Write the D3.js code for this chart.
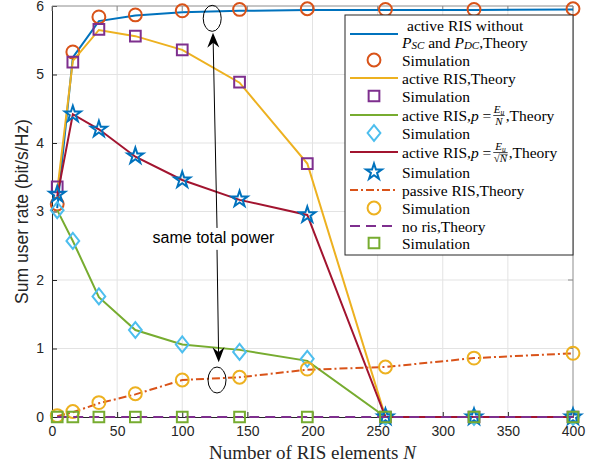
<!DOCTYPE html>
<html>
<head>
<meta charset="utf-8">
<script src="https://cdn.jsdelivr.net/npm/d3@7"></script>
<style>
  body { margin: 0; background: #fff; }
  svg { display: block; }
  .tick text { font-family: "Liberation Sans", Arial, sans-serif; font-size: 14px; fill: #262626; }
</style>
</head>
<body>
<div id="chart"></div>
<script>
// number of RIS elements
var N = [4, 16, 36, 64, 100, 144, 196, 256, 324, 400];

// active RIS without Psc and Pdc
var noPowerTheory = [3.05, 5.25, 5.78, 5.86, 5.91, 5.93, 5.94, 5.94, 5.94, 5.95];
var noPowerSim    = [3.11, 5.33, 5.84, 5.87, 5.93, 5.95, 5.96, 5.95, 5.95, 5.96];
// active RIS
var activeTheory = [3.30, 5.20, 5.65, 5.56, 5.36, 4.88, 3.70, 0, 0, 0];
var activeSim    = [3.36, 5.18, 5.66, 5.56, 5.36, 4.89, 3.70, 0, 0, 0];
// active RIS, p = Eu/N
var pNTheory = [3.02, 2.57, 1.75, 1.27, 1.06, 0.98, 0.82, 0, 0, 0];
var pNSim    = [3.02, 2.57, 1.76, 1.27, 1.06, 0.95, 0.85, 0, 0, 0];
// active RIS, p = Eu/sqrt(N)
var pSqrtTheory = [3.22, 4.42, 4.20, 3.80, 3.46, 3.17, 2.95, 0, 0, 0];
var pSqrtSim    = [3.25, 4.42, 4.20, 3.81, 3.46, 3.18, 2.95, 0, 0, 0];
// passive RIS
var passiveTheory = [0.01, 0.07, 0.20, 0.33, 0.54, 0.58, 0.69, 0.73, 0.86, 0.93];
var passiveSim    = [0.02, 0.08, 0.21, 0.34, 0.54, 0.58, 0.70, 0.73, 0.86, 0.93];
// no RIS
var noRisTheory = [0, 0, 0, 0, 0, 0, 0, 0, 0, 0];
var noRisSim    = [0, 0, 0, 0, 0, 0, 0, 0, 0, 0];

var xTicks = [0, 50, 100, 150, 200, 250, 300, 350, 400];
var yTicks = [0, 1, 2, 3, 4, 5, 6];

// annotation anchors (data units)
var topEllipse = {x: 123, y: 5.82};
var botEllipse = {x: 126.7, y: 0.54};
var noteText = {x: 124, y: 2.54, label: "same total power"};
var topArrow = {from: [126.7, 2.76], to: [123.6, 5.61]};
var botArrow = {from: [126.7, 2.44], to: [128, 0.80]};

var width = 603, height = 469;
var margin = {top: 6, right: 30, bottom: 52, left: 52};

var svg = d3.select("#chart").append("svg")
    .attr("width", width)
    .attr("height", height);

var xScale = d3.scaleLinear().domain([0, 400]).range([margin.left, width - margin.right]);
var yScale = d3.scaleLinear().domain([0, 6]).range([height - margin.bottom, margin.top]);

var x0 = xScale(0), x1 = xScale(400), y0 = yScale(0), y1 = yScale(6);

// grid
svg.append("g").selectAll("line").data(xTicks.slice(1, -1)).enter().append("line")
    .attr("x1", function(d){ return xScale(d); }).attr("x2", function(d){ return xScale(d); })
    .attr("y1", y0).attr("y2", y1)
    .attr("stroke", "#e3e3e3").attr("stroke-width", 1);
svg.append("g").selectAll("line").data(yTicks.slice(1, -1)).enter().append("line")
    .attr("x1", x0).attr("x2", x1)
    .attr("y1", function(d){ return yScale(d); }).attr("y2", function(d){ return yScale(d); })
    .attr("stroke", "#e3e3e3").attr("stroke-width", 1);

// axes
var xAxis = d3.axisBottom(xScale).tickValues(xTicks).tickFormat(d3.format("d")).tickSize(-5).tickPadding(9);
var yAxis = d3.axisLeft(yScale).tickValues(yTicks).tickFormat(d3.format("d")).tickSize(-5).tickPadding(8);

svg.append("g").attr("transform", "translate(0," + y0 + ")").call(xAxis)
    .call(function(g){ g.select(".domain").attr("stroke", "#262626"); g.selectAll(".tick line").attr("stroke", "#262626"); });
svg.append("g").attr("transform", "translate(" + x0 + ",0)").call(yAxis)
    .call(function(g){ g.select(".domain").attr("stroke", "#262626"); g.selectAll(".tick line").attr("stroke", "#262626"); });

// top / right box edges with inward ticks
svg.append("line").attr("x1", x0).attr("x2", x1).attr("y1", y1).attr("y2", y1).attr("stroke", "#8c8c8c");
svg.append("line").attr("x1", x1).attr("x2", x1).attr("y1", y1).attr("y2", y0).attr("stroke", "#8c8c8c");
svg.append("g").selectAll("line").data(xTicks).enter().append("line")
    .attr("x1", function(d){ return xScale(d); }).attr("x2", function(d){ return xScale(d); })
    .attr("y1", y1).attr("y2", y1 + 5).attr("stroke", "#8c8c8c");
svg.append("g").selectAll("line").data(yTicks).enter().append("line")
    .attr("x1", x1).attr("x2", x1 - 5)
    .attr("y1", function(d){ return yScale(d); }).attr("y2", function(d){ return yScale(d); })
    .attr("stroke", "#8c8c8c");

// axis labels
svg.append("text")
    .attr("transform", "translate(22," + ((y0 + y1) / 2) + ") rotate(-90)")
    .attr("text-anchor", "middle")
    .attr("dominant-baseline", "central")
    .style("font-family", "Liberation Sans, Arial, sans-serif")
    .style("font-size", "17.5px").attr("fill", "#262626")
    .text("Sum user rate (bit/s/Hz)");

var xl = svg.append("text")
    .attr("x", (x0 + x1) / 2).attr("y", 459)
    .attr("text-anchor", "middle")
    .style("font-family", "Liberation Serif, Times New Roman, serif")
    .style("font-size", "19px").attr("fill", "#262626");
xl.append("tspan").text("Number of RIS elements ");
xl.append("tspan").style("font-style", "italic").text("N");

// colours (MATLAB default order)
var C = {blue: "#0072BD", orange: "#D95319", yellow: "#EDB120", purple: "#7E2F8E",
         green: "#77AC30", cyan: "#4DBEEE", red: "#A2142F"};

var series = [
  {theory: noPowerTheory, sim: noPowerSim, line: C.blue, dash: null, marker: "circle", mcolor: C.orange},
  {theory: activeTheory, sim: activeSim, line: C.yellow, dash: null, marker: "square", mcolor: C.purple},
  {theory: pNTheory, sim: pNSim, line: C.green, dash: null, marker: "diamond", mcolor: C.cyan},
  {theory: pSqrtTheory, sim: pSqrtSim, line: C.red, dash: null, marker: "star", mcolor: C.blue},
  {theory: passiveTheory, sim: passiveSim, line: C.orange, dash: "8,3,2,3", marker: "circle", mcolor: C.yellow},
  {theory: noRisTheory, sim: noRisSim, line: C.purple, dash: "10,6", marker: "square", mcolor: C.green}
];

// wider MATLAB-like diamond
var wideDiamond = {
  draw: function(ctx, size) {
    var h = Math.sqrt(size) * 0.82, w = h * 0.8;
    ctx.moveTo(0, -h); ctx.lineTo(w, 0); ctx.lineTo(0, h); ctx.lineTo(-w, 0); ctx.closePath();
  }
};

var symbols = {
  circle: d3.symbol().type(d3.symbolCircle).size(130),
  square: d3.symbol().type(d3.symbolSquare).size(115),
  diamond: d3.symbol().type(wideDiamond).size(95),
  star: d3.symbol().type(d3.symbolStar).size(80)
};

var line = d3.line()
    .x(function(d){ return xScale(d[0]); })
    .y(function(d){ return yScale(d[1]); });

var plot = svg.append("g");

series.forEach(function(s){
  var pts = N.map(function(n, i){ return [n, s.theory[i]]; });
  plot.append("path")
      .attr("d", line(pts))
      .attr("fill", "none")
      .attr("stroke", s.line)
      .attr("stroke-width", 2)
      .attr("stroke-dasharray", s.dash);

  plot.append("g").selectAll("path").data(N.map(function(n, i){ return [n, s.sim[i]]; }))
    .enter().append("path")
      .attr("transform", function(d){ return "translate(" + xScale(d[0]) + "," + yScale(d[1]) + ")"; })
      .attr("d", symbols[s.marker]())
      .attr("fill", "none")
      .attr("stroke", s.mcolor)
      .attr("stroke-width", 2);
});

// annotation
var ann = svg.append("g").attr("stroke", "#000").attr("fill", "none");
ann.append("ellipse").attr("cx", xScale(topEllipse.x)).attr("cy", yScale(topEllipse.y))
    .attr("rx", 9).attr("ry", 13).attr("stroke-width", 1);
ann.append("ellipse").attr("cx", xScale(botEllipse.x)).attr("cy", yScale(botEllipse.y))
    .attr("rx", 9).attr("ry", 13).attr("stroke-width", 1);

svg.append("text")
    .attr("x", xScale(noteText.x)).attr("y", yScale(noteText.y))
    .attr("text-anchor", "middle")
    .style("font-family", "Liberation Sans, Arial, sans-serif")
    .style("font-size", "16px").attr("fill", "#000")
    .text(noteText.label);

function arrow(a) {
  var xa = xScale(a.from[0]), ya = yScale(a.from[1]);
  var xb = xScale(a.to[0]), yb = yScale(a.to[1]);
  var ang = Math.atan2(yb - ya, xb - xa);
  var len = 15, half = 6;
  var c = Math.cos(ang), s = Math.sin(ang);
  var bx = xb - len * c, by = yb - len * s;
  var nx = -s, ny = c;
  var mx = xb - 10 * c, my = yb - 10 * s;
  svg.append("line").attr("x1", xa).attr("y1", ya).attr("x2", mx).attr("y2", my)
      .attr("stroke", "#000").attr("stroke-width", 1);
  svg.append("path")
      .attr("d", "M" + xb + "," + yb + "L" + (bx + nx * half) + "," + (by + ny * half) +
                 "L" + mx + "," + my + "L" + (bx - nx * half) + "," + (by - ny * half) + "Z")
      .attr("fill", "#000");
}
arrow(topArrow);
arrow(botArrow);

// legend
var legend = svg.append("g");
var lx = 345, ly = 15, lw = x1 - 345, lh = 240;
legend.append("rect").attr("x", lx).attr("y", ly).attr("width", lw).attr("height", lh)
    .attr("fill", "#fff").attr("stroke", "#262626").attr("stroke-width", 1);

var serif = "Liberation Serif, Times New Roman, serif";
var lfs = "15.5px";
function ltext(y) {
  return legend.append("text").attr("x", 402).attr("y", y)
      .attr("dominant-baseline", "central")
      .style("font-family", serif).style("font-size", lfs).attr("fill", "#000");
}
function lline(y, s) {
  legend.append("line").attr("x1", 350).attr("x2", 398).attr("y1", y).attr("y2", y)
      .attr("stroke", s.line).attr("stroke-width", 2).attr("stroke-dasharray", s.dash);
}
function lmark(y, s) {
  legend.append("path").attr("transform", "translate(374," + y + ")")
      .attr("d", symbols[s.marker]()).attr("fill", "none")
      .attr("stroke", s.mcolor).attr("stroke-width", 2);
}
function frac(t, num, sub, den) {
  // small stacked fraction placed after the text t
  var bb = t.node().getComputedTextLength();
  var fx = 402 + bb + 2, fy = +t.attr("y");
  var g = legend.append("g").style("font-family", serif).attr("fill", "#000");
  var n = g.append("text").attr("x", fx).attr("y", fy - 2.5).style("font-size", "11px");
  n.append("tspan").style("font-style", "italic").text(num);
  n.append("tspan").attr("dy", 2).style("font-size", "7.5px").style("font-style", "italic").text(sub);
  var d = g.append("text").attr("x", fx).attr("y", fy + 10).style("font-size", "11px");
  d.append("tspan").text(den.pre);
  d.append("tspan").style("font-style", "italic").text(den.v);
  var w = Math.max(n.node().getComputedTextLength(), d.node().getComputedTextLength()) + 1;
  n.attr("x", fx + (w - n.node().getComputedTextLength()) / 2);
  d.attr("x", fx + (w - d.node().getComputedTextLength()) / 2);
  g.append("line").attr("x1", fx).attr("x2", fx + w).attr("y1", fy + 0.5).attr("y2", fy + 0.5)
      .attr("stroke", "#000").attr("stroke-width", 0.7);
  if (den.pre) {
    g.append("line").attr("x1", fx + 7).attr("x2", fx + w).attr("y1", fy + 2.3).attr("y2", fy + 2.3)
        .attr("stroke", "#000").attr("stroke-width", 0.6);
  }
  legend.append("text").attr("x", fx + w + 1).attr("y", fy)
      .attr("dominant-baseline", "central")
      .style("font-family", serif).style("font-size", lfs).attr("fill", "#000")
      .text(",Theory");
}

// entry 1 (two lines)
ltext(25).attr("x", 407).text("active RIS without");
var t2 = ltext(42);
t2.append("tspan").style("font-style", "italic").text("P");
t2.append("tspan").attr("dy", 3).style("font-size", "11px").style("font-style", "italic").text("SC");
t2.append("tspan").attr("dy", -3).text(" and ");
t2.append("tspan").style("font-style", "italic").text("P");
t2.append("tspan").attr("dy", 3).style("font-size", "11px").style("font-style", "italic").text("DC");
t2.append("tspan").attr("dy", -3).text(",Theory");
lline(34, series[0]);
ltext(60).text("Simulation"); lmark(60, series[0]);

ltext(78).text("active RIS,Theory"); lline(78, series[1]);
ltext(96).text("Simulation"); lmark(96, series[1]);

var t3 = ltext(115);
t3.append("tspan").text("active RIS,");
t3.append("tspan").style("font-style", "italic").text("p");
t3.append("tspan").text(" = ");
frac(t3, "E", "u", {pre: "", v: "N"});
lline(115, series[2]);
ltext(133).text("Simulation"); lmark(133, series[2]);

var t4 = ltext(152);
t4.append("tspan").text("active RIS,");
t4.append("tspan").style("font-style", "italic").text("p");
t4.append("tspan").text(" = ");
frac(t4, "E", "u", {pre: "\u221A", v: "N"});
lline(152, series[3]);
ltext(172).text("Simulation"); lmark(172, series[3]);

ltext(190).text("passive RIS,Theory"); lline(190, series[4]);
ltext(208).text("Simulation"); lmark(208, series[4]);

ltext(226).text("no ris,Theory"); lline(226, series[5]);
ltext(243).text("Simulation"); lmark(243, series[5]);
</script>
</body>
</html>
